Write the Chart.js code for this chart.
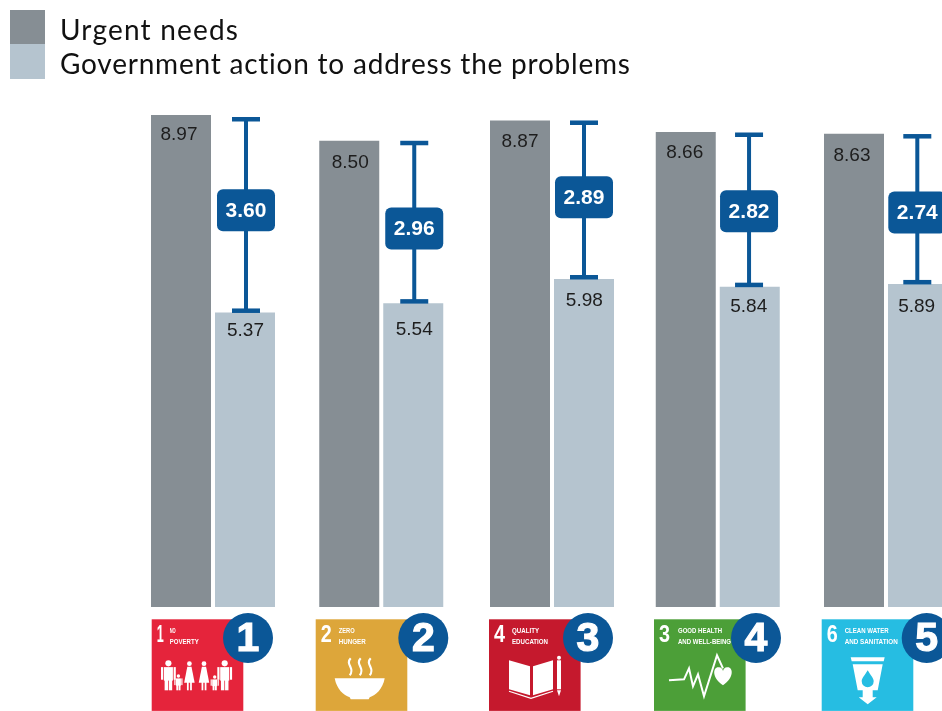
<!DOCTYPE html>
<html><head><meta charset="utf-8">
<style>html,body{margin:0;padding:0;background:#fff;overflow:hidden;width:942px;height:711px}#w{position:relative;width:1000px;height:711px}canvas{display:block}</style>
<script src="https://cdn.jsdelivr.net/npm/chart.js@4"></script>
</head><body><div id="w"><canvas id="c" width="1000" height="711"></canvas></div>
<script>
const categories = ["NO POVERTY","ZERO HUNGER","QUALITY EDUCATION","GOOD HEALTH AND WELL-BEING","CLEAN WATER AND SANITATION"];
const urgentNeeds = [8.97,8.50,8.87,8.66,8.63];
const governmentAction = [5.37,5.54,5.98,5.84,5.89];
const gaps = ["3.60","2.96","2.89","2.82","2.74"];
const seriesNames = ["Urgent needs","Government action to address the problems"];
const ranks = ["1","2","3","4","5"];
const sdgNumbers = ["1","2","4","3","6"];
const sdgTitles = [["NO","POVERTY"],["ZERO","HUNGER"],["QUALITY","EDUCATION"],["GOOD HEALTH","AND WELL-BEING"],["CLEAN WATER","AND SANITATION"]];

const BLUE="#0B5797", DARK="#868E94", LIGHT="#B5C4CF";
const sdgColors=["#E5243B","#DDA63A","#C5192D","#4C9F38","#26BDE2"];
const slotNudge=[0,0,2.5,0,0];
const darkLabelDy=[20,22,21,21,22], lightLabelDy=[18,27,22,20,23];
const darkLabelDx=[-2,1,0,-1,-2];
const lightLabelDx=[0.5,1,0.3,-1,-1.3];
const whiskerDx=[1,1,0,-0.7,-0.7];
const badgeDy=[-4.5,6.5,-2.5,1.7,3.5];
const whiskerTopDy=[4,2,2,2.5,2.4];
const iconX=[151.7,315.7,489,654,821.7], circleX=[248,423.3,588,756,926.7];
const titleDx=[18,23,23,24,23], titleW=[[6,29],[16,27],[27,36],[44,53],[44,53]];

function poly(c,p,o,s){c.beginPath();p.forEach((q,i)=>i?c.lineTo(o+q[0],s+q[1]):c.moveTo(o+q[0],s+q[1]));}
function person(c,x,top,bot,w,dress){
  const h=bot-top, r=w*0.34;
  c.beginPath();c.arc(x,top+r,r,0,7);c.fill();
  const sy=top+2*r+0.7;
  if(dress){poly(c,[[x-w*.3,sy],[x+w*.3,sy],[x+w*.75,sy+h*.55],[x-w*.75,sy+h*.55]],0,0);c.fill();
    c.fillRect(x-w*.35,sy+h*.5,w*.25,bot-sy-h*.5);c.fillRect(x+w*.1,sy+h*.5,w*.25,bot-sy-h*.5);}
  else{c.fillRect(x-w*.5,sy,w,h*.45);c.fillRect(x-w*.42,sy+h*.4,w*.38,bot-sy-h*.4);c.fillRect(x+w*.04,sy+h*.4,w*.38,bot-sy-h*.4);
    c.fillRect(x-w*.82,sy,w*.24,h*.42);c.fillRect(x+w*.58,sy,w*.24,h*.42);}
}
const pictos=[
 (c,x,y)=>{[[16.7,41,71,9,0],[26.7,55,71,5,0],[37.7,42,71,7,1],[52.3,42,71,7,1],[63,56,71,5,0],[73,41,71,9,0]].forEach(p=>person(c,x+p[0],y+p[1],y+p[2],p[3],p[4]));},
 (c,x,y)=>{c.beginPath();c.moveTo(x+19,y+59);c.lineTo(x+69,y+59);c.bezierCurveTo(x+67,y+70,x+60,y+76,x+54,y+78);c.lineTo(x+53,y+80);c.lineTo(x+35,y+80);c.lineTo(x+34,y+78);c.bezierCurveTo(x+28,y+76,x+21,y+70,x+19,y+59);c.fill();
   c.lineWidth=2.2;[34,44,54].forEach(d=>{c.beginPath();c.moveTo(x+d+1,y+39);c.bezierCurveTo(x+d-5,y+45,x+d+6,y+49,x+d,y+56);c.stroke();});},
 (c,x,y)=>{poly(c,[[20,41],[41,47],[41,76],[20,70]],x,y);c.fill();poly(c,[[44,47],[64,41],[64,70],[44,76]],x,y);c.fill();
   c.lineWidth=1.2;poly(c,[[20,72],[42,79],[64,72]],x,y);c.stroke();
   c.fillRect(x+68,y+41,4,29);poly(c,[[68,71],[72,71],[70,77]],x,y);c.fill();c.beginPath();c.arc(x+70,y+38.5,2,0,7);c.fill();},
 (c,x,y)=>{c.lineWidth=2;c.lineJoin="miter";poly(c,[[15,61],[30,60],[35,49],[39,67],[44,55],[50,77],[63,36],[69,49]],x,y);c.stroke();
   const hx=x+69,hy=y+54;c.beginPath();c.moveTo(hx,hy+12);c.bezierCurveTo(hx-12,hy+4,hx-10,hy-7,hx-4,hy-6);c.bezierCurveTo(hx-2,hy-6,hx,hy-4,hx,hy-2);c.bezierCurveTo(hx,hy-4,hx+2,hy-6,hx+4,hy-6);c.bezierCurveTo(hx+10,hy-7,hx+12,hy+4,hx,hy+12);c.fill();},
 (c,x,y)=>{poly(c,[[29,38],[63,38],[62,42],[30,42]],x,y);c.fill();poly(c,[[31,45],[61,45],[56,71],[51,71],[51,78],[55,78],[46,85],[37,78],[41,78],[41,71],[36,71]],x,y);c.fill();
   c.fillStyle=sdgColors[4];c.beginPath();c.moveTo(x+46,y+51);c.bezierCurveTo(x+43,y+56,x+40,y+59,x+40,y+62);c.arc(x+46,y+62,6,Math.PI,0,true);c.bezierCurveTo(x+52,y+59,x+49,y+56,x+46,y+51);c.fill();}
];

const marks={id:"marks",
 afterDatasetsUpdate(ch){ch.data.datasets.forEach((d,di)=>ch.getDatasetMeta(di).data.forEach((b,i)=>{b.x+=slotNudge[i];}));},
 afterDatasetsDraw(ch){
  const c=ch.ctx,y=ch.scales.y,m0=ch.getDatasetMeta(0).data,m1=ch.getDatasetMeta(1).data;
  c.save();c.textAlign="center";c.textBaseline="middle";
  categories.forEach((_,i)=>{
    const xd=m0[i].x,xl=m1[i].x,yd=y.getPixelForValue(urgentNeeds[i]),yl=y.getPixelForValue(governmentAction[i]);
    c.fillStyle="#1d1d1d";c.font="19px 'Liberation Sans'";
    c.fillText(urgentNeeds[i].toFixed(2),xd+darkLabelDx[i],yd+darkLabelDy[i]);
    c.fillText(governmentAction[i].toFixed(2),xl+lightLabelDx[i],yl+lightLabelDy[i]);
    const t=yd+whiskerTopDy[i],b=yl-2,cx=xl+whiskerDx[i];
    c.fillStyle=BLUE;c.fillRect(cx-2,t,4,b-t);c.fillRect(cx-14,t-2,28,4.5);c.fillRect(cx-14,b-2,28,4.5);
    const my=(t+b)/2+badgeDy[i];
    c.beginPath();c.roundRect(cx-29,my-21,58,42,6);c.fill();
    c.fillStyle="#fff";c.font="bold 21px 'Liberation Sans'";c.fillText(gaps[i],cx,my+.5);
  });
  c.restore();
 },
 afterDraw(ch){
  const c=ch.ctx;c.save();
  [DARK,LIGHT].forEach((col,i)=>{c.fillStyle=col;c.fillRect(10,i?44:10,35,i?35:34);});
  c.fillStyle="#111";c.textAlign="left";c.textBaseline="middle";c.font="28px Lato";
  seriesNames.forEach((s,i)=>{c.letterSpacing=i?"0.78px":"1.2px";c.fillText(s,60,i?65:30.5);});
  c.letterSpacing="0px";
  categories.forEach((_,i)=>{
    const x=iconX[i],yy=619.3,s=91.6;
    c.filter="blur(0.5px)";
    c.fillStyle=sdgColors[i];c.fillRect(x,yy,s,s);
    c.fillStyle="#fff";c.strokeStyle="#fff";c.textAlign="left";c.textBaseline="middle";
    c.font="bold 23px 'Liberation Sans'";c.fillText(sdgNumbers[i],x+5,yy+16,i==0?7:11);
    c.font="bold 8px 'Liberation Sans'";
    sdgTitles[i].forEach((t,j)=>c.fillText(t,x+titleDx[i],yy+11+j*11,titleW[i][j]));
    pictos[i](c,x,yy);
    c.fillStyle=BLUE;c.beginPath();c.arc(circleX[i],638,25,0,7);c.fill();
    c.fillStyle="#fff";c.strokeStyle="#fff";c.lineWidth=1.2;c.textAlign="center";c.font="bold 41px 'Liberation Sans'";
    c.fillText(ranks[i],circleX[i],639.5);c.strokeText(ranks[i],circleX[i],639.5);
    c.filter="none";
  });
  c.restore();
 }};

new Chart(document.getElementById("c"),{
 type:"bar",
 data:{labels:categories,datasets:[
  {label:seriesNames[0],data:urgentNeeds,backgroundColor:DARK,categoryPercentage:128/168.25,barPercentage:60/64},
  {label:seriesNames[1],data:governmentAction,backgroundColor:LIGHT,categoryPercentage:128/168.25,barPercentage:60/64}]},
 options:{responsive:false,animation:false,
  layout:{padding:{left:128.875,right:29.875,top:113.35,bottom:104}},
  plugins:{legend:{display:false},tooltip:{enabled:false}},
  scales:{x:{display:false},y:{display:false,min:0,max:9}}},
 plugins:[marks]});
</script></body></html>
